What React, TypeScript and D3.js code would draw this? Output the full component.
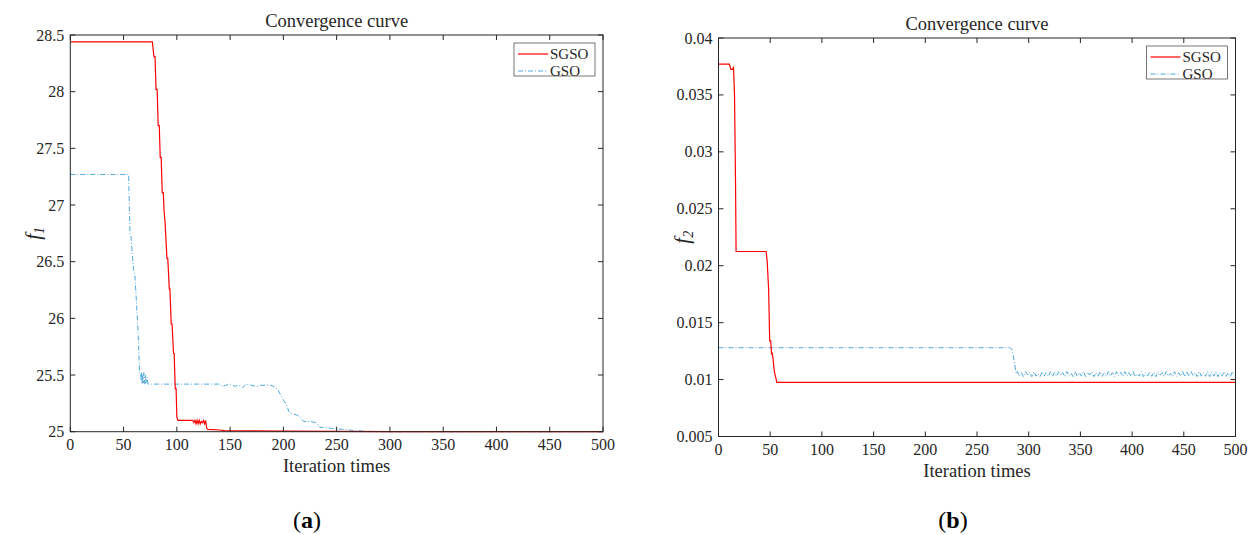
import React from "react";
import * as d3 from "d3";

// ---------- data ----------
const X_TICKS = [0, 50, 100, 150, 200, 250, 300, 350, 400, 450, 500];
const Y1_TICKS = [25, 25.5, 26, 26.5, 27, 27.5, 28, 28.5];
const Y1_LABELS = ["25", "25.5", "26", "26.5", "27", "27.5", "28", "28.5"];
const Y2_TICKS = [0.005, 0.01, 0.015, 0.02, 0.025, 0.03, 0.035, 0.04];
const Y2_LABELS = ["0.005", "0.01", "0.015", "0.02", "0.025", "0.03", "0.035", "0.04"];
const SERIES_NAMES = ["SGSO", "GSO"];

// f1 SGSO [iteration, value]
const F1_SGSO: [number, number][] = [
  [0, 28.44], [77, 28.44], [78.5, 28.31], [79.5, 28.31], [80.5, 28.02], [81.5, 28.02],
  [82.5, 27.7], [83.5, 27.7], [84.4, 27.42], [85.3, 27.42], [86.3, 27.11], [87.3, 27.11],
  [88, 26.95], [89, 26.84], [90.7, 26.53], [91.5, 26.53], [92.9, 26.26], [93.5, 26.26],
  [94.7, 25.95], [95.5, 25.95], [96.9, 25.69], [97.5, 25.69], [98.5, 25.38], [99.3, 25.38],
  [100, 25.13], [101, 25.1], [115, 25.1], [116, 25.08], [117, 25.1], [118, 25.07],
  [119, 25.1], [120, 25.07], [121, 25.1], [122, 25.07], [123, 25.09], [124, 25.08],
  [125, 25.1], [126, 25.07], [127, 25.1], [128, 25.03], [129, 25.02], [140, 25.015],
  [145, 25.01], [170, 25.008], [200, 25.005], [250, 25.002], [300, 25.0], [500, 25.0],
];

// f1 GSO
const F1_GSO: [number, number][] = [
  [0, 27.27], [54.7, 27.27], [55.3, 27.04], [56, 26.75], [57, 26.72], [59.4, 26.42],
  [60.5, 26.4], [62, 26.16], [63, 25.98], [64, 25.8], [65, 25.52], [66, 25.52],
  [66.5, 25.45], [67, 25.52], [67.5, 25.42], [68, 25.5], [68.5, 25.43], [69, 25.52],
  [70, 25.42], [70.5, 25.5], [71, 25.43], [72, 25.48], [73, 25.42], [140, 25.42],
  [143, 25.4], [146, 25.41], [150, 25.42], [155, 25.4], [158, 25.41], [162, 25.39],
  [165, 25.42], [170, 25.41], [175, 25.4], [180, 25.41], [188, 25.41], [191, 25.4],
  [195, 25.37], [197, 25.33], [200, 25.28], [203, 25.24], [205, 25.18], [207, 25.16],
  [212, 25.15], [216, 25.13], [219, 25.09], [225, 25.09], [231, 25.08], [234, 25.04],
  [245, 25.03], [250, 25.024], [258, 25.02], [266, 25.01], [280, 25.003], [300, 25.0],
  [500, 25.0],
];

// f2 SGSO
const F2_SGSO: [number, number][] = [
  [0, 0.0377], [10.5, 0.0377], [12, 0.03725], [13.5, 0.03725], [14.5, 0.0374],
  [15.5, 0.035], [16.5, 0.027], [17, 0.02125], [46, 0.02125], [47, 0.0205],
  [48.5, 0.0179], [49.5, 0.0134], [50.5, 0.0134], [51.3, 0.0122], [51.8, 0.0124],
  [52.5, 0.012], [54, 0.0107], [56.5, 0.00975], [500, 0.00975],
];

// f2 GSO: plateau then drop
const F2_GSO_HEAD: [number, number][] = [
  [0, 0.0128], [282, 0.0128], [284, 0.0126], [286, 0.0116], [288, 0.0105],
];
// f2 GSO oscillating tail, one value every 2 iterations starting at 289
const F2_GSO_TAIL_START = 289;
const F2_GSO_TAIL = [
  0.0107, 0.0103, 0.0106, 0.01025, 0.0107, 0.0104, 0.01065, 0.01025, 0.0107, 0.0103,
  0.0105, 0.01025, 0.0107, 0.0103, 0.0106, 0.01028, 0.0107, 0.01025, 0.01065, 0.0103,
  0.0107, 0.01035, 0.0106, 0.01025, 0.0107, 0.0103, 0.01055, 0.01025, 0.0107, 0.01028,
  0.0106, 0.0103, 0.0107, 0.01025, 0.01065, 0.0104, 0.0107, 0.01025, 0.0106, 0.0103,
  0.0107, 0.01028, 0.01055, 0.01025, 0.0107, 0.0103, 0.0106, 0.01025, 0.0107, 0.01035,
  0.01065, 0.01025, 0.0107, 0.0103, 0.0106, 0.01028, 0.0107, 0.01025, 0.0105, 0.0103,
  0.0107, 0.01025, 0.0106, 0.0103, 0.0107, 0.01028, 0.01065, 0.01025, 0.0107, 0.0104,
  0.0106, 0.01025, 0.0107, 0.0103, 0.01055, 0.01025, 0.0107, 0.01028, 0.0106, 0.0103,
  0.0107, 0.01025, 0.01065, 0.0103, 0.0107, 0.01035, 0.0106, 0.01025, 0.0107, 0.0103,
  0.0106, 0.01028, 0.0107, 0.01025, 0.01065, 0.0103, 0.0107, 0.01025, 0.0106, 0.0103,
  0.0107, 0.01028, 0.0106, 0.01025, 0.0107, 0.0103,
];
const F2_GSO: [number, number][] = [
  ...F2_GSO_HEAD,
  ...F2_GSO_TAIL.map((v, i) => [Math.min(500, F2_GSO_TAIL_START + 2 * i), v] as [number, number]),
];

// ---------- style ----------
const FONT = "'Liberation Serif', 'Times New Roman', serif";
const INK = "#262626";
const RED = "#ff0000";
const BLUE = "#4fa8de";

type PanelProps = {
  left: number; right: number; top: number; bottom: number;
  yDomain: [number, number]; yTicks: number[]; yLabels: string[];
  sgso: [number, number][]; gso: [number, number][];
  sub: string; tag: string; tagX: number; clipId: string;
};

function Panel(p: PanelProps) {
  const x = d3.scaleLinear().domain([0, 500]).range([p.left, p.right]);
  const y = d3.scaleLinear().domain(p.yDomain).range([p.bottom, p.top]);
  const line = d3.line<[number, number]>().x((d) => x(d[0])).y((d) => y(d[1]));
  const tl = 5;
  const cx = (p.left + p.right) / 2;
  const cy = (p.top + p.bottom) / 2;
  const legR = p.right - 8;
  const legL = legR - 81;
  const legT = p.top + 8;
  const legB = legT + 33;
  return (
    <g>
      <defs>
        <clipPath id={p.clipId}>
          <rect x={p.left} y={p.top - 2} width={p.right - p.left} height={p.bottom - p.top + 4} />
        </clipPath>
      </defs>
      <g clipPath={`url(#${p.clipId})`}>
        <path d={line(p.gso) || ""} fill="none" stroke={BLUE} strokeWidth={1} strokeDasharray="5,2,1,2" />
        <path d={line(p.sgso) || ""} fill="none" stroke={RED} strokeWidth={1.2} />
      </g>
      <rect x={p.left} y={p.top} width={p.right - p.left} height={p.bottom - p.top} fill="none" stroke={INK} strokeWidth={1} />
      {X_TICKS.map((t) => (
        <g key={"x" + t}>
          <line x1={x(t)} x2={x(t)} y1={p.bottom} y2={p.bottom - tl} stroke={INK} />
          <line x1={x(t)} x2={x(t)} y1={p.top} y2={p.top + tl} stroke={INK} />
          <text x={x(t)} y={p.bottom + 18} textAnchor="middle" fontSize={16} fill={INK} fontFamily={FONT}>{t}</text>
        </g>
      ))}
      {p.yTicks.map((t, i) => (
        <g key={"y" + t}>
          <line x1={p.left} x2={p.left + tl} y1={y(t)} y2={y(t)} stroke={INK} />
          <line x1={p.right} x2={p.right - tl} y1={y(t)} y2={y(t)} stroke={INK} />
          <text x={p.left - 6} y={y(t) + 5.5} textAnchor="end" fontSize={16} fill={INK} fontFamily={FONT}>{p.yLabels[i]}</text>
        </g>
      ))}
      <text x={cx} y={p.top - 8} textAnchor="middle" fontSize={18.5} fill={INK} fontFamily={FONT}>Convergence curve</text>
      <text x={cx} y={p.bottom + 40} textAnchor="middle" fontSize={18.5} fill={INK} fontFamily={FONT}>Iteration times</text>
      <text transform={`translate(${p.left - 30},${cy}) rotate(-90)`} textAnchor="middle" fontSize={21} fill={INK} fontFamily={FONT} fontStyle="italic">
        f<tspan fontSize={14} dy={4}>{p.sub}</tspan>
      </text>
      <rect x={legL} y={legT} width={legR - legL} height={legB - legT} fill="#fff" stroke="#555" strokeWidth={0.8} />
      <line x1={legL + 4} x2={legL + 34} y1={legT + 11} y2={legT + 11} stroke={RED} strokeWidth={1.2} />
      <line x1={legL + 4} x2={legL + 34} y1={legT + 28} y2={legT + 28} stroke={BLUE} strokeWidth={1} strokeDasharray="5,2,1,2" />
      <text x={legL + 36} y={legT + 16} fontSize={15} fill={INK} fontFamily={FONT}>{SERIES_NAMES[0]}</text>
      <text x={legL + 36} y={legT + 33} fontSize={15} fill={INK} fontFamily={FONT}>{SERIES_NAMES[1]}</text>
      <text x={p.tagX} y={528} textAnchor="middle" fontSize={24} fill="#000" fontFamily={FONT}>
        (<tspan fontWeight="bold">{p.tag}</tspan>)
      </text>
    </g>
  );
}

export default function App() {
  return (
    <svg width={1255} height={535} style={{ position: "absolute", left: 0, top: 0, background: "#fff" }}>
      <rect width={1255} height={535} fill="#fff" />
      <Panel left={70.3} right={603} top={35} bottom={431.7} yDomain={[25, 28.5]} yTicks={Y1_TICKS} yLabels={Y1_LABELS}
        sgso={F1_SGSO} gso={F1_GSO} sub="1" tag="a" tagX={307} clipId="c1" />
      <Panel left={718.5} right={1235.5} top={38} bottom={436.5} yDomain={[0.005, 0.04]} yTicks={Y2_TICKS} yLabels={Y2_LABELS}
        sgso={F2_SGSO} gso={F2_GSO} sub="2" tag="b" tagX={953} clipId="c2" />
    </svg>
  );
}
